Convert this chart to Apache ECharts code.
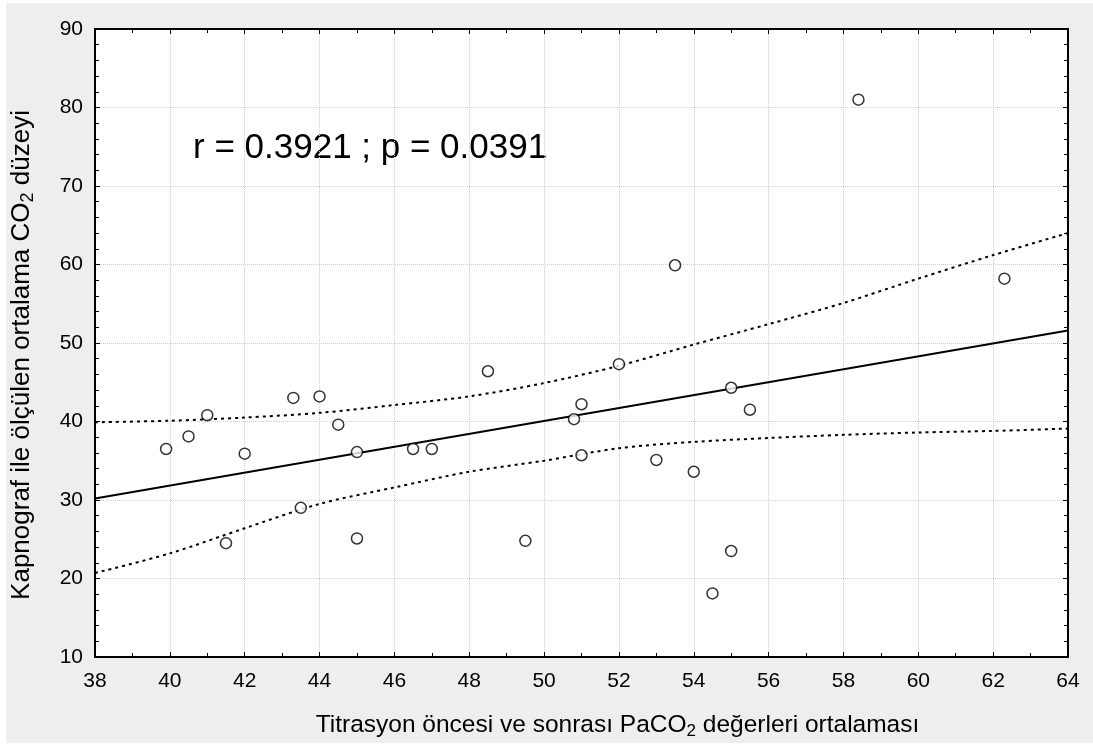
<!DOCTYPE html>
<html>
<head>
<meta charset="utf-8">
<script src="https://cdn.jsdelivr.net/npm/echarts@6/dist/echarts.min.js"></script>
<style>
  html, body { margin: 0; padding: 0; background: #fff; }
  #chart { width: 1093px; height: 747px; }
</style>
</head>
<body>
<div id="chart"></div>
<script>
'use strict';

// observed points (PaCO2 mean vs capnograph CO2)
var paco2 = [39.9, 40.5, 41.0, 41.5, 42.0, 43.3, 43.5, 44.0, 44.5, 45.0, 45.0, 46.5, 47.0, 48.5,
    49.5, 50.8, 51.0, 51.0, 52.0, 53.0, 53.5, 54.0, 54.5, 55.0, 55.0, 55.5, 58.4, 62.3];
var capno = [36.5, 38.1, 40.8, 24.5, 35.9, 43.0, 29.0, 43.2, 39.6, 36.1, 25.1, 36.5, 36.5, 46.4,
    24.8, 40.3, 42.2, 35.7, 47.3, 35.1, 59.9, 33.6, 18.1, 23.5, 44.3, 41.5, 81.0, 58.2];

// regression line ends
var fitX = [38, 64];
var fitY = [30.2, 51.6];

// 95% confidence band
var bandX = [38, 40, 42, 44, 46, 48, 50, 52, 54, 56, 58, 60, 62, 64];
var bandUpper = [39.9, 40.1, 40.5, 41.1, 42.1, 43.2, 44.9, 47.1, 49.8, 52.4, 55.1, 58.2, 61.2, 64.0];
var bandLower = [20.7, 23.2, 26.4, 29.5, 31.6, 33.6, 35.0, 36.6, 37.4, 37.9, 38.3, 38.6, 38.8, 39.1];

var statText = 'r = 0.3921 ; p = 0.0391';

var FONT = '"Liberation Sans", Arial, sans-serif';

function pairs(xs, ys) {
    return xs.map(function(x, i) { return [x, ys[i]]; });
}

var boxAxis = {
    axisLine: { show: true, onZero: false, lineStyle: { color: '#000', width: 2 } },
    axisTick: { show: true, inside: true, length: 5, lineStyle: { color: '#000', width: 1 } },
    minorTick: { show: true, length: 4, lineStyle: { color: '#000', width: 1 } },
    axisLabel: { show: false },
    splitLine: { show: false }
};

function titleRich(size) {
    return {
        t: { fontSize: size, fontFamily: FONT, color: '#000' },
        s: { fontSize: Math.round(size * 0.68), fontFamily: FONT, color: '#000', padding: [13, 0, 0, 0] }
    };
}

var myChart = echarts.init(document.getElementById('chart'));

var option = {
    animation: false,
    backgroundColor: '#fff',
    graphic: [{
        type: 'rect',
        z: -10,
        silent: true,
        shape: { x: 6, y: 3, width: 1087, height: 740 },
        style: { fill: '#eeeeee' }
    }, {
        type: 'text',
        x: 193,
        y: 148,
        style: {
            text: statText,
            font: '35px ' + FONT,
            fill: '#000',
            textVerticalAlign: 'middle'
        }
    }],
    grid: {
        left: 95, top: 29, right: 25, bottom: 90,
        show: true, backgroundColor: '#fff', borderWidth: 0
    },
    xAxis: [Object.assign({}, boxAxis, {
        type: 'value', min: 38, max: 64, interval: 2,
        minorTick: Object.assign({}, boxAxis.minorTick, { splitNumber: 2 }),
        axisLabel: { show: true, color: '#000', fontSize: 21, fontFamily: FONT, margin: 14 },
        splitLine: { show: true, lineStyle: { color: '#cfcfcf', type: 'dotted', width: 1 } },
        name: '{t|Titrasyon öncesi ve sonrası PaCO}{s|2}{t| değerleri ortalaması}',
        nameLocation: 'middle',
        nameGap: 53,
        nameTextStyle: { rich: titleRich(24.5), padding: [0, 0, 0, 72] }
    }), Object.assign({}, boxAxis, {
        type: 'value', position: 'top', min: 38, max: 64, interval: 2,
        minorTick: Object.assign({}, boxAxis.minorTick, { splitNumber: 2 })
    })],
    yAxis: [Object.assign({}, boxAxis, {
        type: 'value', min: 10, max: 90, interval: 10,
        minorTick: Object.assign({}, boxAxis.minorTick, { splitNumber: 5 }),
        axisLabel: { show: true, color: '#000', fontSize: 21, fontFamily: FONT, margin: 12 },
        splitLine: { show: true, lineStyle: { color: '#cfcfcf', type: 'dotted', width: 1 } },
        name: '{t|Kapnograf ile ölçülen ortalama CO}{s|2}{t| düzeyi}',
        nameLocation: 'middle',
        nameGap: 58,
        nameRotate: 90,
        nameTextStyle: { rich: titleRich(26), padding: [0, 24, 0, 0] }
    }), Object.assign({}, boxAxis, {
        type: 'value', position: 'right', min: 10, max: 90, interval: 10,
        minorTick: Object.assign({}, boxAxis.minorTick, { splitNumber: 5 })
    })],
    series: [{
        name: 'upper',
        type: 'line',
        smooth: 0.3,
        showSymbol: false,
        data: pairs(bandX, bandUpper),
        lineStyle: { color: '#000', width: 2, type: [3, 4] },
        z: 3
    }, {
        name: 'lower',
        type: 'line',
        smooth: 0.3,
        showSymbol: false,
        data: pairs(bandX, bandLower),
        lineStyle: { color: '#000', width: 2, type: [3, 4] },
        z: 3
    }, {
        name: 'fit',
        type: 'line',
        showSymbol: false,
        data: pairs(fitX, fitY),
        lineStyle: { color: '#000', width: 2 },
        z: 3
    }, {
        name: 'points',
        type: 'scatter',
        symbol: 'circle',
        symbolSize: 11,
        data: pairs(paco2, capno),
        itemStyle: { color: '#fff', borderColor: '#000', borderWidth: 1.5 },
        z: 5
    }]
};

myChart.setOption(option);
</script>
</body>
</html>
